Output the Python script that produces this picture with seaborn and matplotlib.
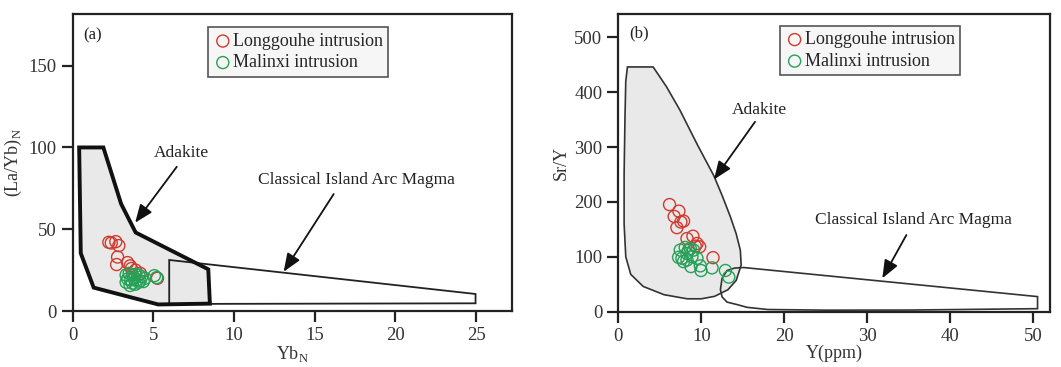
import numpy as np
import pandas as pd
import seaborn as sns
import matplotlib.pyplot as plt
from matplotlib.patches import Polygon

# ---- panel (a): (La/Yb)N vs YbN ----
a_long_x = [2.24, 2.39, 2.67, 2.86, 2.78, 2.72, 3.40, 3.56, 3.64, 3.89, 4.19, 5.25]
a_long_y = [42.0, 41.6, 42.4, 40.0, 33.0, 28.4, 29.6, 27.6, 26.0, 25.0, 23.0, 20.0]
a_mal_x = [3.31, 3.50, 3.70, 3.89, 4.09, 4.28, 4.48, 3.40, 3.60, 3.79, 3.99, 4.18,
           4.38, 3.31, 3.70, 3.89, 4.09, 3.56, 5.06, 5.20]
a_mal_y = [22.0, 23.0, 22.0, 22.4, 22.0, 21.0, 20.0, 19.6, 19.0, 20.0, 19.0, 18.4,
           18.0, 17.6, 17.0, 16.4, 17.6, 15.6, 21.6, 20.4]

a_adakite_x = [0.4, 1.9, 3.0, 3.9, 8.4, 8.5, 5.3, 1.3, 0.5]
a_adakite_y = [100, 100, 65.5, 48, 25.5, 4.5, 4.0, 14.3, 35.3]
a_arc_x = [5.98, 24.96, 24.96, 5.98]
a_arc_y = [31.2, 10.4, 4.7, 4.3]

# ---- panel (b): Sr/Y vs Y ----
b_long_x = [6.17, 6.73, 7.30, 7.86, 7.54, 7.06, 8.27, 8.99, 9.48, 9.80, 9.27, 11.41]
b_long_y = [195.2, 173.6, 183.2, 165.2, 163.4, 153.2, 133.3, 137.5, 124.3, 118.3, 119.5, 98.5]
b_mal_x = [7.46, 8.06, 8.67, 9.07, 8.27, 7.66, 7.26, 8.27, 8.87, 9.48, 8.75, 9.88,
           9.96, 11.29, 12.90, 13.31, 7.86, 8.47]
b_mal_y = [112.3, 117.1, 115.3, 112.3, 106.3, 97.3, 99.1, 94.3, 100.3, 97.3, 82.3, 83.5,
           75.1, 79.9, 75.1, 63.1, 91.3, 112.3]

b_adakite_x = [1.1, 4.2, 5.8, 7.4, 9.5, 11.5, 12.5, 13.5, 14.2, 14.7, 14.8, 14.2, 13.2,
               11.6, 10.0, 8.3, 5.5, 3.0, 1.5, 0.9, 0.7, 0.7, 0.8, 0.9]
b_adakite_y = [446, 446, 410, 368, 305, 248, 212, 173, 142, 112, 85, 57, 40,
               28, 23.5, 23.5, 31, 46, 68, 100, 160, 250, 350, 420]
b_arc_x = [14.0, 15.1, 50.5, 50.5, 35, 25, 18, 15.5, 14.3, 13.1, 12.5, 12.3, 12.5, 13.1]
b_arc_y = [79.5, 80.5, 27.5, 5.5, 3.0, 2.8, 4.0, 8.0, 13.0, 17.5, 27, 40, 61, 75]

names = ['Longgouhe intrusion', 'Malinxi intrusion']
colors = ['#d23a2e', '#26a158']

sns.set_theme(style='ticks')
plt.rcParams['font.family'] = ['Liberation Serif', 'DejaVu Serif']
plt.rcParams['mathtext.fontset'] = 'custom'
plt.rcParams['mathtext.rm'] = 'Liberation Serif'

fig = plt.figure(figsize=(10.61, 3.67), dpi=100)
ax1 = fig.add_axes([72.7 / 1061, 56 / 367, 439 / 1061, 297 / 367])
ax2 = fig.add_axes([618.3 / 1061, 55.3 / 367, 431.7 / 1061, 297.7 / 367])

grey = '#e9e9e9'


def style_axes(ax):
    for s in ax.spines.values():
        s.set_linewidth(1.6)
        s.set_color('#222222')
    ax.tick_params(axis='both', direction='out', length=8, width=1.6,
                   colors='#222222', labelsize=13.5, labelcolor='#333333')


def draw_points(ax, longx, longy, malx, maly):
    sets = [(longx, longy), (malx, maly)]
    for (xs, ys), name, c in zip(sets, names, colors):
        df = pd.DataFrame({'x': xs, 'y': ys})
        sns.scatterplot(data=df, x='x', y='y', ax=ax, marker='o', s=75,
                        facecolor='none', edgecolor=c, linewidth=1.0,
                        label=name, zorder=5)


def draw_legend(ax, anchor):
    leg = ax.legend(loc='upper left', bbox_to_anchor=anchor, frameon=True,
                    fancybox=False, edgecolor='#555555', facecolor='#f6f6f6',
                    framealpha=1, fontsize=13, handletextpad=0.05,
                    borderpad=0.3, labelspacing=0.25, handlelength=1.0,
                    borderaxespad=0)
    leg.get_frame().set_linewidth(1.2)


arrow = dict(arrowstyle='-|>,head_length=0.55,head_width=0.22', color='#111111',
             lw=1.3, mutation_scale=20, shrinkA=0, shrinkB=0)

# ---- panel (a) ----
ax = ax1
ax.add_patch(Polygon(np.column_stack([a_adakite_x, a_adakite_y]), closed=True,
                     facecolor=grey, edgecolor='none', zorder=1))
ax.add_patch(Polygon(np.column_stack([a_arc_x, a_arc_y]), closed=True,
                     facecolor='none', edgecolor='#222222', lw=1.3, zorder=2))
ax.add_patch(Polygon(np.column_stack([a_adakite_x, a_adakite_y]), closed=True,
                     facecolor='none', edgecolor='#111111', lw=2.8,
                     joinstyle='miter', zorder=3))
draw_points(ax, a_long_x, a_long_y, a_mal_x, a_mal_y)
ax.annotate('', xy=(3.87, 54.0), xytext=(6.45, 88.2), arrowprops=arrow)
ax.annotate('', xy=(13.07, 24.0), xytext=(16.17, 71.5), arrowprops=arrow)
ax.text(6.76, 96.8, 'Adakite', fontsize=12.5, ha='center', va='center', color='#222222')
ax.text(17.58, 80.1, 'Classical Island Arc Magma', fontsize=12.5, ha='center',
        va='center', color='#222222')
ax.text(1.24, 168.7, '(a)', fontsize=12, ha='center', va='center', color='#222222')
ax.set_xlim(0, 27.2)
ax.set_ylim(0, 181.6)
ax.set_xticks([0, 5, 10, 15, 20, 25])
ax.set_yticks([0, 50, 100, 150])
ax.set_xlabel(r'Yb$_\mathregular{N}$', fontsize=13, labelpad=0, color='#333333')
ax.set_ylabel(r'(La/Yb)$_\mathregular{N}$', fontsize=13, labelpad=3, color='#333333')
style_axes(ax)
draw_legend(ax, (0.309, 0.955))

# ---- panel (b) ----
ax = ax2
ax.add_patch(Polygon(np.column_stack([b_adakite_x, b_adakite_y]), closed=True,
                     facecolor=grey, edgecolor='#333333', lw=1.2, zorder=1))
ax.add_patch(Polygon(np.column_stack([b_arc_x, b_arc_y]), closed=True,
                     facecolor='none', edgecolor='#333333', lw=1.2, zorder=2))
draw_points(ax, b_long_x, b_long_y, b_mal_x, b_mal_y)
ax.annotate('', xy=(11.53, 241), xytext=(16.47, 346), arrowprops=arrow)
ax.annotate('', xy=(31.8, 60.8), xytext=(34.7, 139.7), arrowprops=arrow)
ax.text(16.99, 367.6, 'Adakite', fontsize=12.5, ha='center', va='center', color='#222222')
ax.text(35.5, 167, 'Classical Island Arc Magma', fontsize=12.5, ha='center',
        va='center', color='#222222')
ax.text(2.5, 507, '(b)', fontsize=12, ha='center', va='center', color='#222222')
ax.set_xlim(0, 52)
ax.set_ylim(0, 542.5)
ax.set_xticks([0, 10, 20, 30, 40, 50])
ax.set_yticks([0, 100, 200, 300, 400, 500])
ax.set_xlabel('Y(ppm)', fontsize=13, labelpad=0, color='#333333')
ax.set_ylabel('Sr/Y', fontsize=13, labelpad=3, color='#333333')
style_axes(ax)
draw_legend(ax, (0.375, 0.96))

plt.savefig('out.png', dpi=100)
